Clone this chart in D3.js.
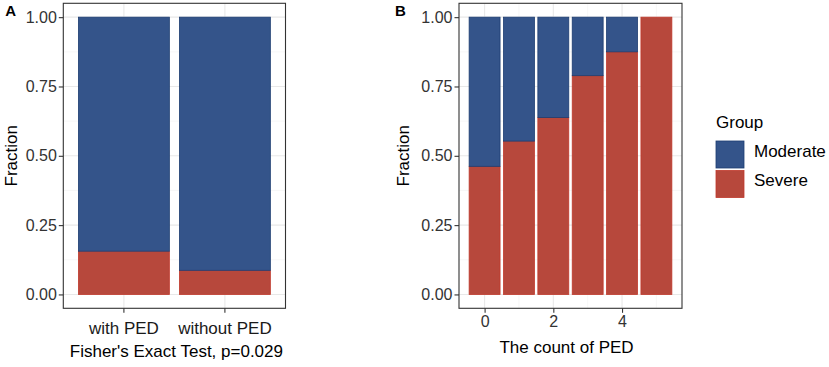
<!DOCTYPE html>
<html>
<head>
<meta charset="utf-8">
<script src="https://cdn.jsdelivr.net/npm/d3@7"></script>
<style>
  body { margin: 0; background: #fff; }
  text { font-family: "Liberation Sans", Arial, sans-serif; }
</style>
</head>
<body>
<div id="chart"></div>
<script>
// Data
const groups = ["Moderate", "Severe"];
const pedStatus = ["with PED", "without PED"];
const severeA = [0.156, 0.087];
const pedCounts = [0, 1, 2, 3, 4, 5];
const severeB = [0.462, 0.553, 0.638, 0.789, 0.875, 1.0];
const yTicks = [0, 0.25, 0.5, 0.75, 1];
const yMinor = [0.125, 0.375, 0.625, 0.875];
const xTicksB = [0, 2, 4];
const xMinorB = [1, 3, 5];

const fills = { Moderate: "#34548a", Severe: "#b7483c" };
const strokes = { Moderate: "#1c3c70", Severe: "#c0392b" };

const W = 829, H = 367;
const svg = d3.select("#chart").append("svg")
  .attr("width", W).attr("height", H);

const panelTop = 3.3, panelBottom = 308.3;
const y = d3.scaleLinear().domain([-0.05, 1.05]).range([panelBottom, panelTop]);

// stack severe at bottom, moderate on top
function stackRows(sev) {
  return [
    { group: "Severe", y0: 0, y1: sev },
    { group: "Moderate", y0: sev, y1: 1 },
  ];
}

function drawPanel(x0, x1, letter, xGrid, xMinorGrid, titleOff, letterOff) {
  const g = svg.append("g");
  // grid lines
  yMinor.forEach((v) => {
    g.append("line").attr("x1", x0).attr("x2", x1)
      .attr("y1", y(v)).attr("y2", y(v))
      .attr("stroke", "#f2f2f2").attr("stroke-width", 0.6);
  });
  xMinorGrid.forEach((xv) => {
    g.append("line").attr("x1", xv).attr("x2", xv)
      .attr("y1", panelTop).attr("y2", panelBottom)
      .attr("stroke", "#f2f2f2").attr("stroke-width", 0.6);
  });
  yTicks.forEach((v) => {
    g.append("line").attr("x1", x0).attr("x2", x1)
      .attr("y1", y(v)).attr("y2", y(v))
      .attr("stroke", "#e8e8e8").attr("stroke-width", 1.1);
  });
  xGrid.forEach((xv) => {
    g.append("line").attr("x1", xv).attr("x2", xv)
      .attr("y1", panelTop).attr("y2", panelBottom)
      .attr("stroke", "#e8e8e8").attr("stroke-width", 1.1);
  });

  // y axis
  const yAxis = g.append("g")
    .attr("transform", `translate(${x0},0)`)
    .call(d3.axisLeft(y).tickValues(yTicks).tickFormat(d3.format(".2f"))
      .tickSize(4.5).tickPadding(2));
  yAxis.select(".domain").remove();
  yAxis.selectAll("line").attr("stroke", "#333").attr("stroke-width", 1.1);
  yAxis.selectAll("text").attr("fill", "#333")
    .style("font-size", "16px").style("font-family", "Liberation Sans, Arial, sans-serif");

  // y title
  svg.append("text")
    .attr("transform", `translate(${x0 - titleOff},${(panelTop + panelBottom) / 2}) rotate(-90)`)
    .attr("text-anchor", "middle")
    .attr("font-size", 17).attr("fill", "#000")
    .text("Fraction");

  // panel letter
  svg.append("text")
    .attr("x", x0 - letterOff).attr("y", 15.5)
    .attr("font-size", 15).attr("font-weight", "bold")
    .text(letter);

  return g;
}

function drawBorder(x0, x1) {
  svg.append("rect")
    .attr("x", x0).attr("y", panelTop)
    .attr("width", x1 - x0).attr("height", panelBottom - panelTop)
    .attr("fill", "none").attr("stroke", "#333").attr("stroke-width", 1.1);
}

// ---------- Panel A ----------
const ax0 = 63.3, ax1 = 285.5;
const xA = d3.scaleBand().domain(pedStatus).range([ax0, ax1])
  .paddingInner(0.1).paddingOuter(0.15);
const gridA = pedStatus.map((d) => xA(d) + xA.bandwidth() / 2);
const gA = drawPanel(ax0, ax1, "A", gridA, [], 46, 58);

pedStatus.forEach((s, i) => {
  stackRows(severeA[i]).forEach((r) => {
    gA.append("rect")
      .attr("x", xA(s)).attr("width", xA.bandwidth())
      .attr("y", y(r.y1)).attr("height", y(r.y0) - y(r.y1))
      .attr("fill", fills[r.group])
      .attr("stroke", strokes[r.group]).attr("stroke-width", 0.8);
  });
});
drawBorder(ax0, ax1);

const xAxisA = svg.append("g")
  .attr("transform", `translate(0,${panelBottom})`)
  .call(d3.axisBottom(xA).tickSize(4.5).tickPadding(9));
xAxisA.select(".domain").remove();
xAxisA.selectAll("line").attr("stroke", "#333").attr("stroke-width", 1.1);
xAxisA.selectAll("text").attr("fill", "#1a1a1a")
  .style("font-size", "17px").style("font-family", "Liberation Sans, Arial, sans-serif");

svg.append("text")
  .attr("x", (ax0 + ax1) / 2 + 2).attr("y", 357)
  .attr("text-anchor", "middle").attr("font-size", 17)
  .text("Fisher's Exact Test, p=0.029");

// ---------- Panel B ----------
const bx0 = 459, bx1 = 682;
const xB = d3.scaleLinear().domain([-0.745, 5.745]).range([bx0, bx1]);
const barW = xB(0.9) - xB(0);
const gB = drawPanel(bx0, bx1, "B", xTicksB.map(xB), xMinorB.map(xB), 50, 64);

pedCounts.forEach((c, i) => {
  stackRows(severeB[i]).forEach((r) => {
    if (r.y1 - r.y0 <= 0) return;
    gB.append("rect")
      .attr("x", xB(c) - barW / 2).attr("width", barW)
      .attr("y", y(r.y1)).attr("height", y(r.y0) - y(r.y1))
      .attr("fill", fills[r.group])
      .attr("stroke", strokes[r.group]).attr("stroke-width", 0.8);
  });
});
drawBorder(bx0, bx1);

const xAxisB = svg.append("g")
  .attr("transform", `translate(0,${panelBottom})`)
  .call(d3.axisBottom(xB).tickValues(xTicksB).tickFormat(d3.format("d"))
    .tickSize(4.5).tickPadding(3));
xAxisB.select(".domain").remove();
xAxisB.selectAll("line").attr("stroke", "#333").attr("stroke-width", 1.1);
xAxisB.selectAll("text").attr("fill", "#333")
  .style("font-size", "16px").style("font-family", "Liberation Sans, Arial, sans-serif");

svg.append("text")
  .attr("x", (bx0 + bx1) / 2 - 4).attr("y", 353)
  .attr("text-anchor", "middle").attr("font-size", 17)
  .text("The count of PED");

// ---------- Legend ----------
const legend = svg.append("g").attr("transform", "translate(716,0)");
legend.append("text").attr("x", 0).attr("y", 128)
  .attr("font-size", 17).text("Group");
groups.forEach((grp, i) => {
  const ky = 141 + i * 29.5;
  legend.append("rect")
    .attr("x", 0).attr("y", ky).attr("width", 28).attr("height", 27)
    .attr("fill", fills[grp]).attr("stroke", strokes[grp]).attr("stroke-width", 0.8);
  legend.append("text")
    .attr("x", 38).attr("y", ky + 15.5)
    .attr("font-size", 17).text(grp);
});
</script>
</body>
</html>
